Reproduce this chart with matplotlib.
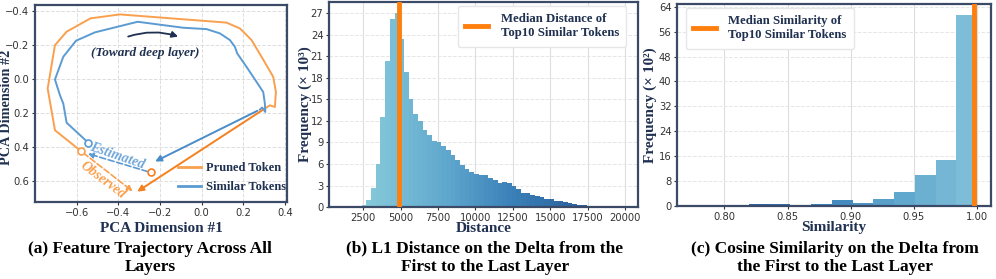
import numpy as np
import matplotlib
matplotlib.use("Agg")
import matplotlib.pyplot as plt
from matplotlib.colors import LinearSegmentedColormap
from matplotlib.lines import Line2D

NAVY = "#1f3050"
SPINE = "#3b4a66"
ORANGE_PATH = "#f9a04e"
ORANGE_ARROW = "#f5801e"
BLUE_PATH = "#5b9bd2"
MEDIAN = "#ff7f0e"
SERIF = ["Liberation Serif", "DejaVu Serif"]

# ---------------- data: panel (a) PCA trajectories ----------------
pruned_x = [-0.579, -0.704, -0.739, -0.704, -0.648, -0.533, -0.392, 0.12, 0.184, 0.24, 0.288, 0.344, 0.357, 0.352, 0.328, 0.304]
pruned_y = [0.422, 0.30, 0.056, -0.198, -0.277, -0.355, -0.378, -0.33, -0.296, -0.228, -0.13, -0.013, 0.076, 0.164, 0.154, 0.173]
similar_x = [-0.544, -0.648, -0.664, -0.68, -0.704, -0.664, -0.603, -0.512, -0.307, -0.088, 0.024, 0.088, 0.136, 0.16, 0.171, 0.216, 0.264, 0.296, 0.304, 0.306, 0.291, 0.28]
similar_y = [0.373, 0.256, 0.144, 0.095, 0.003, -0.13, -0.224, -0.273, -0.335, -0.30, -0.292, -0.267, -0.228, -0.189, -0.15, -0.071, 0.017, 0.076, 0.144, 0.193, 0.167, 0.179]
observed_end = (-0.32, 0.668)
estimated_end = (-0.235, 0.49)
estimated_point = (-0.245, 0.547)

# ---------------- data: panel (b) L1 distance histogram ----------------
dist_range = (1144, 19930)
dist_counts = [0.01, 0.02, 0.05, 0.12, 0.35, 1.0, 2.6, 6.05, 12.5, 20.3,
               26.2, 27.1, 23.4, 18.9, 15.0, 12.95, 12.0, 10.7, 10.0, 9.2,
               9.05, 8.55, 7.9, 7.2, 6.5, 5.9, 5.3, 4.9, 4.55, 4.5,
               4.4, 4.1, 3.7, 3.4, 3.45, 3.3, 3.0, 2.5, 2.0, 2.0,
               1.73, 1.6, 1.4, 1.17, 1.07, 0.9, 0.8, 0.7, 0.56, 0.38,
               0.26, 0.22, 0.19, 0.15, 0.14, 0.13, 0.12, 0.1, 0.08, 0.05]
dist_median = 4888
dist_xticks = [2500, 5000, 7500, 10000, 12500, 15000, 17500, 20000]
dist_yticks = [0, 3, 6, 9, 12, 15, 18, 21, 24, 27]

# ---------------- data: panel (c) cosine similarity histogram ----------------
sim_range = (0.77, 1.0)
sim_counts = [0.1, 0.35, 0.2, 0.7, 0.5, 0.3, 0.6, 1.9, 1.1, 2.1, 4.5, 9.85, 14.7, 61.4]
sim_median = 0.9974
sim_xticks = [0.80, 0.85, 0.90, 0.95, 1.00]
sim_yticks = [0, 8, 16, 24, 32, 40, 48, 56, 64]

cmap_b = LinearSegmentedColormap.from_list("b", ["#90d0dc", "#76bcd5", "#5aa2cb", "#3b80b8", "#2d67a2", "#28568e"])
cmap_c = LinearSegmentedColormap.from_list("c", ["#28568e", "#2e6aa5", "#3f86bd", "#5fa6cd", "#7dbdd7"])

fig = plt.figure(figsize=(9.96, 2.79), dpi=100)
LABEL_KW = dict(fontsize=11, fontweight="bold", color=NAVY, family=SERIF)

def style_axes(ax):
    for s in ax.spines.values():
        s.set_color(SPINE)
        s.set_linewidth(1.6)
    ax.tick_params(axis="both", labelsize=7.2, colors="#333333", length=2.5, width=0.8, pad=1.5)

def place_labels(ax, xlab, ylab, xy_x, yx, yy=0.5):
    ax.set_xlabel(xlab, **LABEL_KW)
    ax.set_ylabel(ylab, **LABEL_KW)
    ax.xaxis.set_label_coords(0.5, xy_x)
    ax.yaxis.set_label_coords(yx, yy)
    ax.xaxis.label.set_va("center")
    ax.yaxis.label.set_va("center")

# ---------- (a) ----------
ax1 = fig.add_axes([0.0351, 0.276, 0.253, 0.706])
ax1.grid(True, ls="--", color="#dddddd", lw=0.7)
ax1.set_axisbelow(True)
ax1.plot(pruned_x, pruned_y, color=ORANGE_PATH, lw=1.4, zorder=3)
ax1.plot(similar_x, similar_y, color=BLUE_PATH, lw=1.4, zorder=3)
ax1.annotate("", xy=observed_end, xytext=(pruned_x[-1], pruned_y[-1]),
             arrowprops=dict(arrowstyle="-|>", color=ORANGE_ARROW, lw=1.4, mutation_scale=9), zorder=4)
ax1.annotate("", xy=estimated_end, xytext=(similar_x[-1], similar_y[-1]),
             arrowprops=dict(arrowstyle="-|>", color="#4a8cc8", lw=1.4, mutation_scale=9), zorder=4)
ax1.annotate("", xy=observed_end, xytext=(pruned_x[0], pruned_y[0]),
             arrowprops=dict(arrowstyle="-|>", color=ORANGE_PATH, lw=1.2, ls="--", mutation_scale=8), zorder=3)
ax1.annotate("", xy=(pruned_x[0] + 0.02, pruned_y[0] + 0.01), xytext=estimated_point,
             arrowprops=dict(arrowstyle="-|>", color=BLUE_PATH, lw=1.2, ls="--", mutation_scale=8), zorder=3)
ax1.plot([pruned_x[0]], [pruned_y[0]], "o", mfc="white", mec=ORANGE_PATH, ms=5, mew=1.2, zorder=5)
ax1.plot([similar_x[0]], [similar_y[0]], "o", mfc="white", mec=BLUE_PATH, ms=5, mew=1.2, zorder=5)
ax1.plot([estimated_point[0]], [estimated_point[1]], "o", mfc="white", mec=ORANGE_ARROW, ms=5, mew=1.2, zorder=5)
ax1.text(-0.27, -0.15, "(Toward deep layer)", ha="center", va="center", fontsize=9.5,
         fontstyle="italic", fontweight="bold", color=NAVY, family=SERIF)
ax1.annotate("", xy=(-0.10, -0.243), xytext=(-0.365, -0.243),
             arrowprops=dict(arrowstyle="-|>", color=NAVY, lw=1.3, mutation_scale=9,
                             connectionstyle="arc3,rad=-0.18"))
ax1.text(-0.405, 0.451, "Estimated", rotation=-19, ha="center", va="center", fontsize=10,
         fontstyle="italic", fontweight="bold", color="#6fa6d8", family=SERIF)
ax1.text(-0.472, 0.594, "Observed", rotation=-37, ha="center", va="center", fontsize=10,
         fontstyle="italic", fontweight="bold", color=ORANGE_PATH, family=SERIF)
ax1.set_xlim(-0.8, 0.41)
ax1.set_ylim(0.72, -0.433)
ax1.set_xticks([-0.6, -0.4, -0.2, 0.0, 0.2, 0.4])
ax1.set_yticks([-0.4, -0.2, 0.0, 0.2, 0.4, 0.6])
ax1.set_xticklabels(["\u22120.6", "\u22120.4", "\u22120.2", "0.0", "0.2", "0.4"])
ax1.set_yticklabels(["\u22120.4", "\u22120.2", "0.0", "0.2", "0.4", "0.6"])
style_axes(ax1)
place_labels(ax1, "PCA Dimension #1", "PCA Dimension #2", -0.135, -0.113, yy=0.48)
ax1.yaxis.label.set_fontsize(10.3)
handles = [Line2D([], [], color=ORANGE_PATH, lw=2), Line2D([], [], color=BLUE_PATH, lw=2)]
leg = ax1.legend(handles, ["Pruned Token", "Similar Tokens"], loc="lower right", frameon=False,
                 prop=dict(family=SERIF, weight="bold", size=9), handlelength=1.85,
                 borderaxespad=0.0, labelspacing=0.55, handletextpad=0.35, bbox_to_anchor=(1.015, 0.02))
for t in leg.get_texts():
    t.set_color(NAVY)

# ---------- (b) ----------
ax2 = fig.add_axes([0.3303, 0.258, 0.3103, 0.735])
ax2.grid(True, axis="x", ls="-", color="#dddddd", lw=0.8)
ax2.grid(True, axis="y", ls="--", color="#e6e6e6", lw=0.7)
ax2.set_axisbelow(True)
edges_b = np.linspace(dist_range[0], dist_range[1], len(dist_counts) + 1)
cols_b = [cmap_b(i / (len(dist_counts) - 1)) for i in range(len(dist_counts))]
ax2.bar(edges_b[:-1], dist_counts, width=np.diff(edges_b), align="edge", color=cols_b, lw=0, zorder=2)
ax2.axvline(dist_median, color=MEDIAN, lw=3.5, zorder=3, label="Median Distance of\nTop10 Similar Tokens")
ax2.set_xlim(205, 20870)
ax2.set_ylim(0, 28.6)
ax2.set_xticks(dist_xticks)
ax2.set_yticks(dist_yticks)
style_axes(ax2)
place_labels(ax2, "Distance", "Frequency (\u00d7 10\u00b3)", -0.107, -0.078)
leg2 = ax2.legend(loc="upper right", prop=dict(family=SERIF, weight="bold", size=9.2),
                  handlelength=1.8, borderpad=0.6, framealpha=1, edgecolor="#e6e6e6", fancybox=True,
                  borderaxespad=0.3, handletextpad=0.95, labelspacing=0.3, bbox_to_anchor=(0.975, 1.0))
for t in leg2.get_texts():
    t.set_color(NAVY)

# ---------- (c) ----------
ax3 = fig.add_axes([0.6797, 0.2616, 0.3153, 0.7241])
ax3.grid(True, axis="x", ls="-", color="#dddddd", lw=0.8)
ax3.grid(True, axis="y", ls="--", color="#e6e6e6", lw=0.7)
ax3.set_axisbelow(True)
edges_c = np.linspace(sim_range[0], sim_range[1], len(sim_counts) + 1)
cols_c = [cmap_c(i / (len(sim_counts) - 1)) for i in range(len(sim_counts))]
ax3.bar(edges_c[:-1], sim_counts, width=np.diff(edges_c), align="edge", color=cols_c, lw=0, zorder=2)
ax3.axvline(sim_median, color=MEDIAN, lw=3.5, zorder=3, label="Median Similarity of\nTop10 Similar Tokens")
ax3.set_xlim(0.7625, 1.011)
ax3.set_ylim(0, 64.9)
ax3.set_xticks(sim_xticks)
ax3.set_xticklabels(["0.80", "0.85", "0.90", "0.95", "1.00"])
ax3.set_yticks(sim_yticks)
style_axes(ax3)
place_labels(ax3, "Similarity", "Frequency (\u00d7 10\u00b2)", -0.108, -0.086)
leg3 = ax3.legend(loc="upper left", prop=dict(family=SERIF, weight="bold", size=9.2),
                  handlelength=1.8, borderpad=0.6, framealpha=1, edgecolor="#e6e6e6", fancybox=True,
                  borderaxespad=0.3, handletextpad=0.95, labelspacing=0.3, bbox_to_anchor=(0.015, 1.0))
for t in leg3.get_texts():
    t.set_color(NAVY)

# ---------- captions ----------
cap_kw = dict(ha="center", va="top", fontsize=12.5, fontweight="bold", color="black", family=SERIF, linespacing=1.15)
fig.text(0.151, 0.137, "(a) Feature Trajectory Across All\nLayers", **cap_kw)
fig.text(0.487, 0.137, "(b) L1 Distance on the Delta from the\nFirst to the Last Layer", **cap_kw)
fig.text(0.838, 0.137, "(c) Cosine Similarity on the Delta from\nthe First to the Last Layer", **cap_kw)

fig.savefig("out.png", dpi=100)
